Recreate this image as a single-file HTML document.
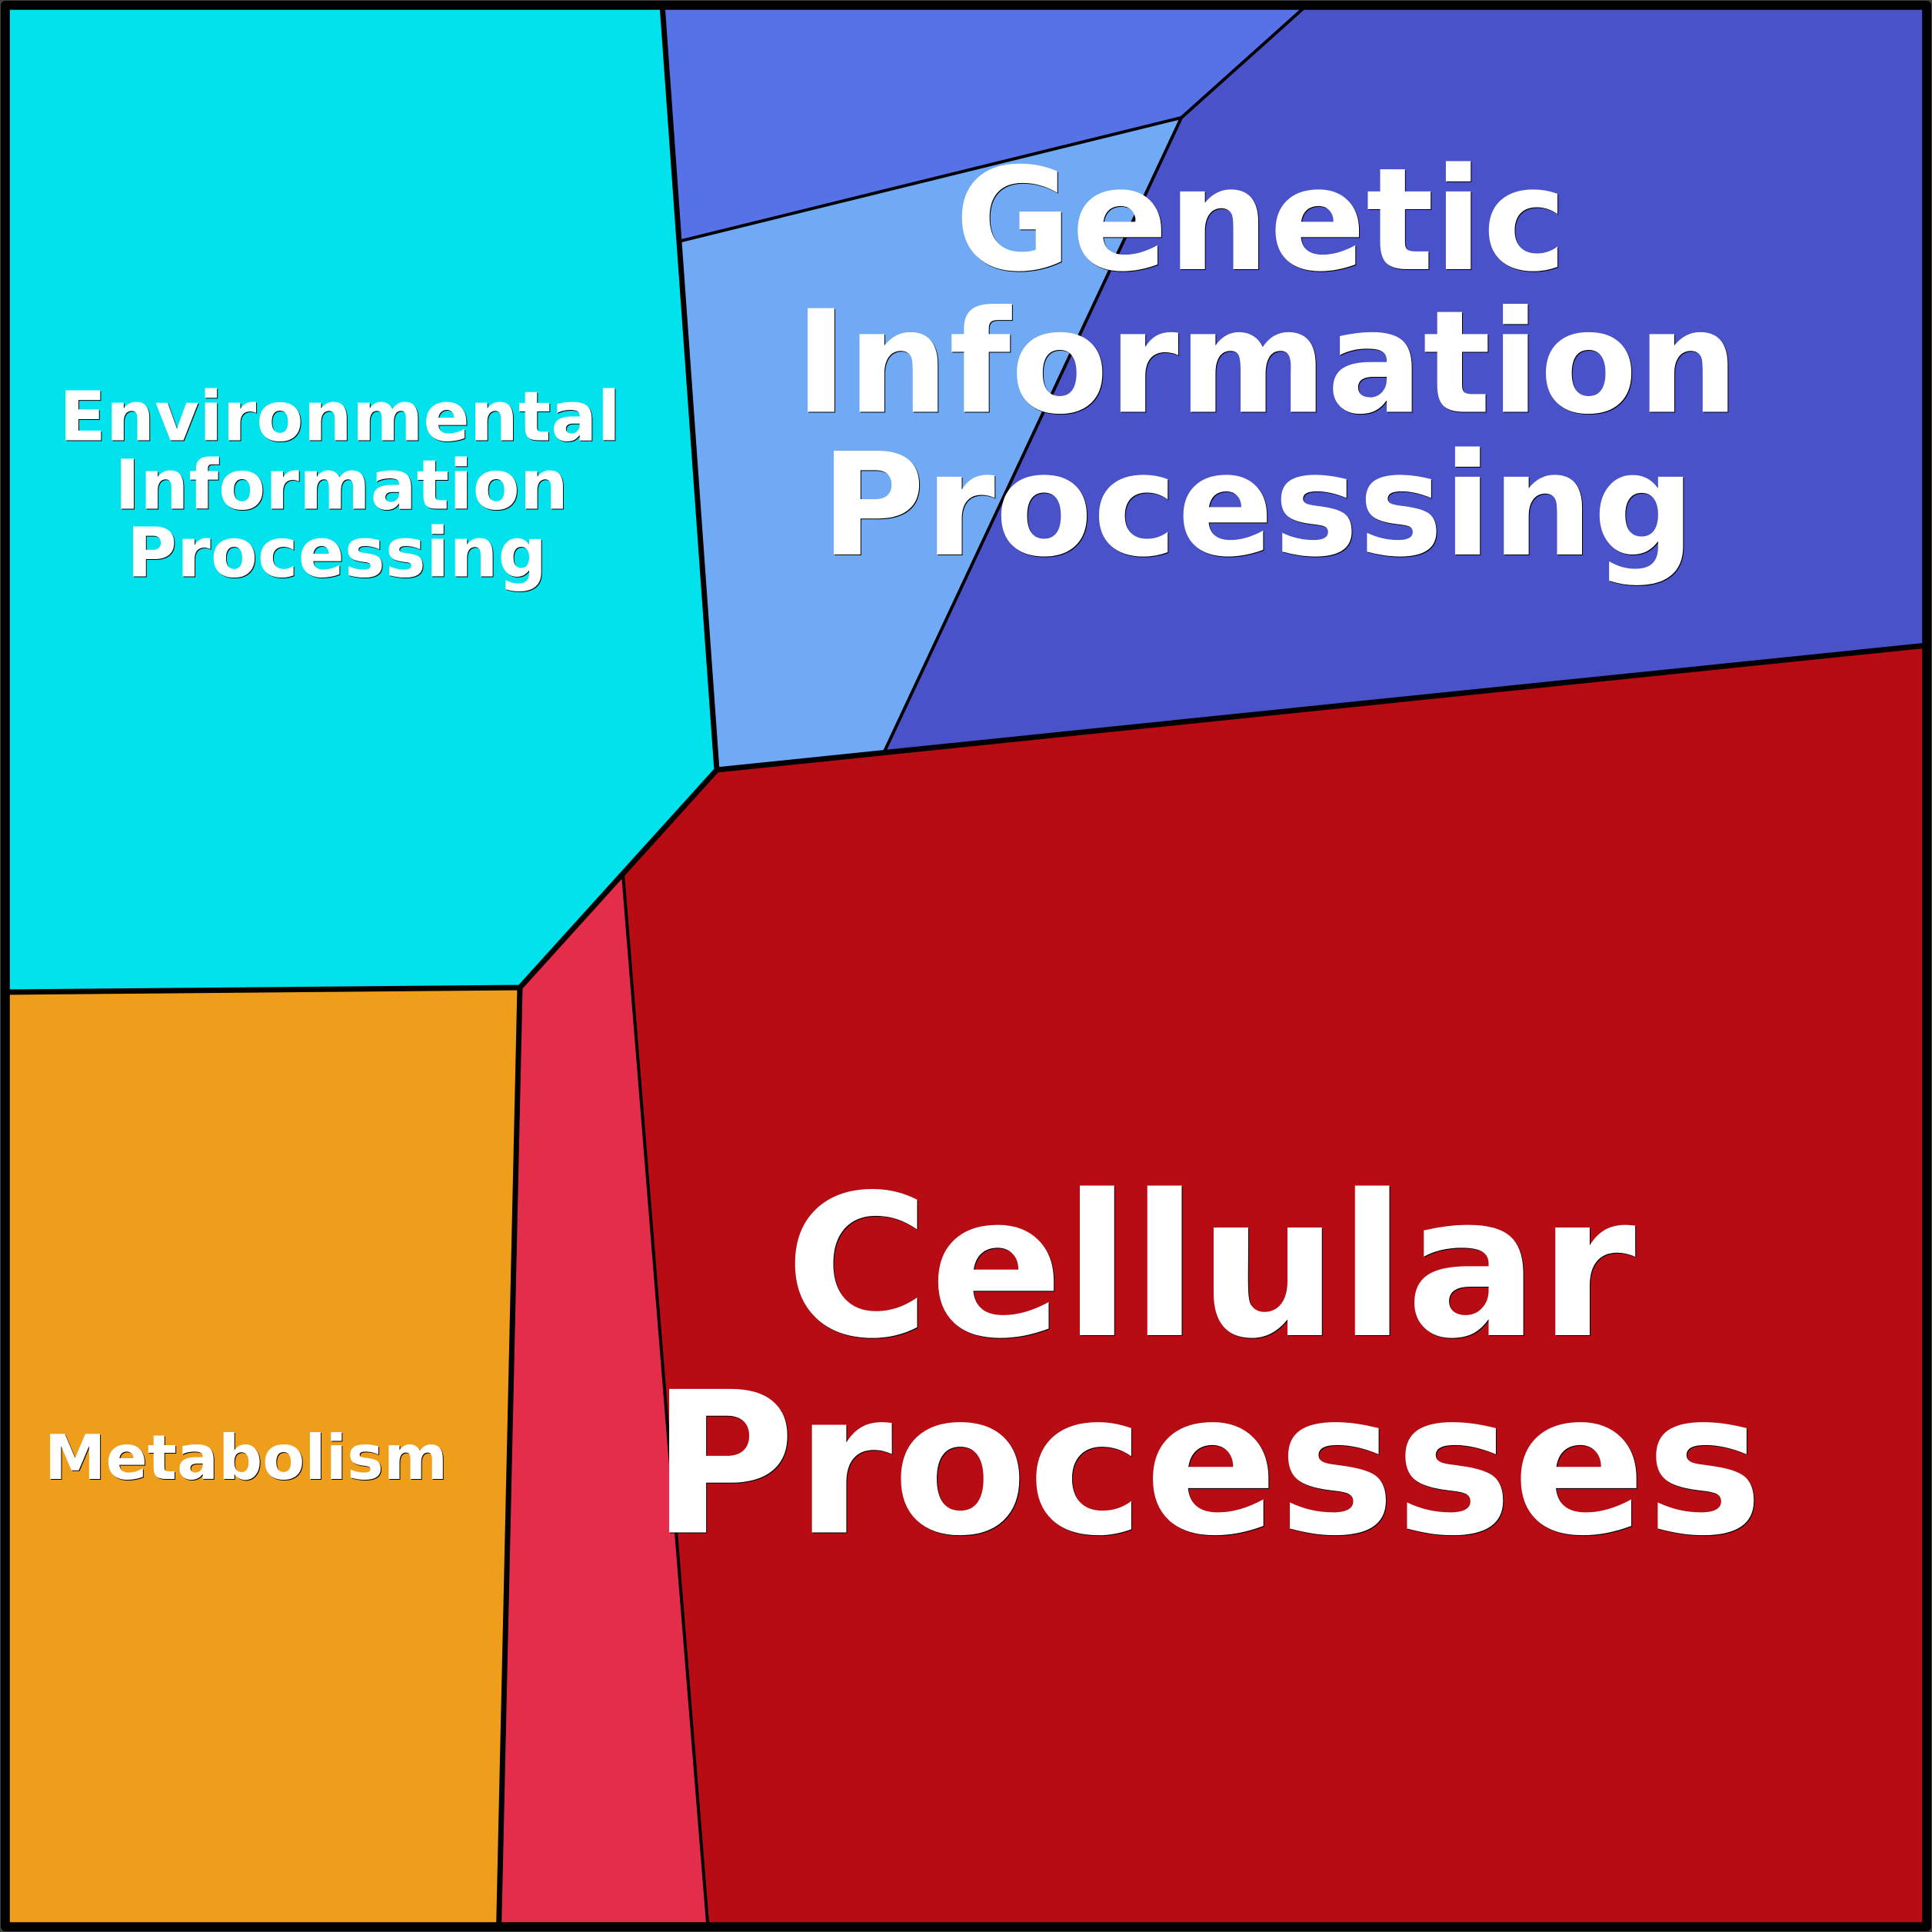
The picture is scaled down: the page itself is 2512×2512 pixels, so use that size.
<!DOCTYPE html>
<html><head><meta charset="utf-8"><style>
html,body{margin:0;padding:0;background:#404040}
svg{display:block}
text{font-family:"DejaVu Sans",sans-serif;font-weight:bold;text-anchor:middle}
.k{fill:#000}.w{fill:#fff}
</style></head><body>
<svg width="2512" height="2512" viewBox="0 0 2512 2512" xmlns="http://www.w3.org/2000/svg">
<rect width="2512" height="2512" fill="#404040"/>
<polygon points="6,6 861,6 932,1001 676,1284 6,1290" fill="#02e2ec"/>
<polygon points="6,1290 676,1284 648,2506 6,2506" fill="#ef9e1c"/>
<polygon points="676,1284 932,1001 2506,839 2506,2506 648,2506" fill="#b80c14"/>
<polygon points="676,1284 810,1137 921,2506 648,2506" fill="#e32d4a"/>
<polygon points="861,6 1700,6 1536,153 886,313" fill="#5772e6"/>
<polygon points="886,313 1536,153 1150,977 932,1001" fill="#70a9f4"/>
<polygon points="1700,6 2506,6 2506,839 1150,977 1536,153" fill="#4a52ca"/>
<g fill="none" stroke="#000" stroke-linejoin="miter">
<path d="M810,1137 L920.5,2506" stroke-width="4"/>
<path d="M886,313 L1536,153 L1700,6" stroke-width="4"/>
<path d="M1536,153 L1150,977" stroke-width="4"/>
<path d="M861,6 L932,1001 L676,1284 L6,1290" stroke-width="7"/>
<path d="M676,1284 L648.6,2506" stroke-width="7"/>
<path d="M932,1001 L2506,839" stroke-width="7"/>
<rect x="6.9" y="6.9" width="2498.2" height="2498.2" stroke-width="11.8" stroke-linejoin="round"/>
</g>
<g font-size="88.9">
<g class="k" transform="translate(1,1)"><text x="442" y="572.5">Environmental</text><text x="444" y="661.5">Information</text><text x="438" y="749.5">Processing</text></g>
<g class="w"><text x="442" y="572.5">Environmental</text><text x="444" y="661.5">Information</text><text x="438" y="749.5">Processing</text></g>
</g>
<g font-size="80">
<text class="k" x="321" y="1924">Metabolism</text>
<text class="w" x="320" y="1923">Metabolism</text>
</g>
<g font-size="185">
<g class="k" transform="translate(1,1)"><text x="1639.5" y="350">Genetic</text><text x="1647" y="535.5">Information</text><text x="1635.5" y="721">Processing</text></g>
<g class="w"><text x="1639.5" y="350">Genetic</text><text x="1647" y="535.5">Information</text><text x="1635.5" y="721">Processing</text></g>
</g>
<g font-size="256">
<g class="k" transform="translate(1,1)"><text x="1574" y="1736">Cellular</text><text x="1569.5" y="1992.5">Processes</text></g>
<g class="w"><text x="1574" y="1736">Cellular</text><text x="1569.5" y="1992.5">Processes</text></g>
</g>
</svg>
</body></html>
